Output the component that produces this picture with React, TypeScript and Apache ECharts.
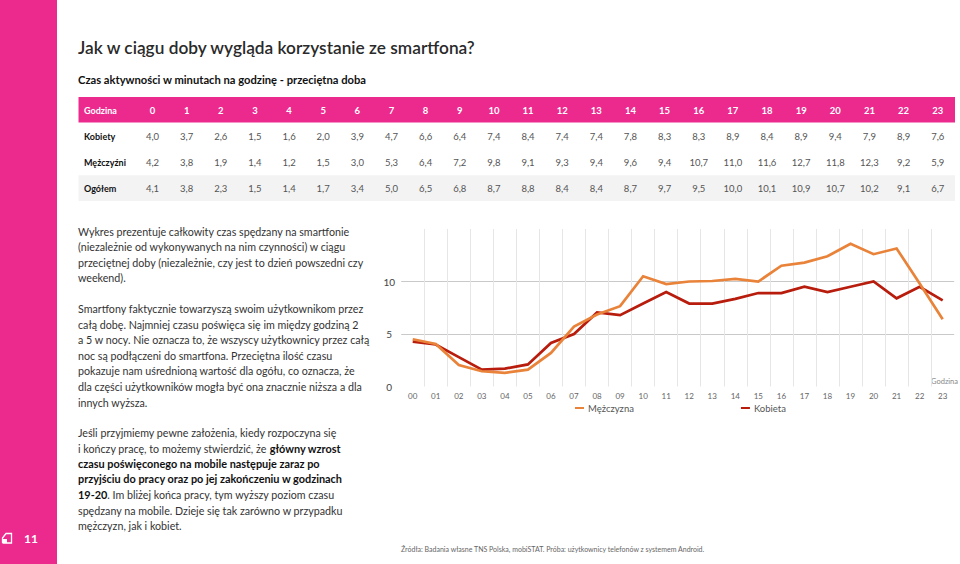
import React, { useEffect, useRef } from "react";
import * as echarts from "echarts";

const title = "Jak w ciągu doby wygląda korzystanie ze smartfona?";
const subtitle = "Czas aktywności w minutach na godzinę - przeciętna doba";
const tableHours = ["0","1","2","3","4","5","6","7","8","9","10","11","12","13","14","15","16","17","18","19","20","21","22","23"];
const tableWomen = ["4,0","3,7","2,6","1,5","1,6","2,0","3,9","4,7","6,6","6,4","7,4","8,4","7,4","7,4","7,8","8,3","8,3","8,9","8,4","8,9","9,4","7,9","8,9","7,6"];
const tableMen = ["4,2","3,8","1,9","1,4","1,2","1,5","3,0","5,3","6,4","7,2","9,8","9,1","9,3","9,4","9,6","9,4","10,7","11,0","11,6","12,7","11,8","12,3","9,2","5,9"];
const tableAll = ["4,1","3,8","2,3","1,5","1,4","1,7","3,4","5,0","6,5","6,8","8,7","8,8","8,4","8,4","8,7","9,7","9,5","10,0","10,1","10,9","10,7","10,2","9,1","6,7"];

const axisHours = ["00","01","02","03","04","05","06","07","08","09","10","11","12","13","14","15","16","17","18","19","20","21","22","23"];
const menPlotted = [4.5,4.05,2.05,1.45,1.3,1.6,3.2,5.7,6.85,7.65,10.5,9.75,10,10.05,10.25,10,11.5,11.8,12.4,13.6,12.6,13.15,9.8,6.4];
const womenPlotted = [4.27,4.0,2.8,1.6,1.7,2.1,4.15,5.0,7.05,6.8,7.9,9,7.9,7.9,8.35,8.9,8.9,9.5,9.0,9.5,10,8.4,9.5,8.2];

const paraA = [
  "Wykres prezentuje całkowity czas spędzany na smartfonie",
  "(niezależnie od wykonywanych na nim czynności) w ciągu",
  "przeciętnej doby (niezależnie, czy jest to dzień powszedni czy",
  "weekend).",
];
const paraB = [
  "Smartfony faktycznie towarzyszą swoim użytkownikom przez",
  "całą dobę. Najmniej czasu poświęca się im między godziną 2",
  "a 5 w nocy. Nie oznacza to, że wszyscy użytkownicy przez całą",
  "noc są podłączeni do smartfona. Przeciętna ilość czasu",
  "pokazuje nam uśrednioną wartość dla ogółu, co oznacza, że",
  "dla części użytkowników mogła być ona znacznie niższa a dla",
  "innych wyższa.",
];
const paraC = [
  "Jeśli przyjmiemy pewne założenia, kiedy rozpoczyna się",
  "i kończy pracę, to możemy stwierdzić, że {b|główny wzrost}",
  "{b|czasu poświęconego na mobile następuje zaraz po}",
  "{b|przyjściu do pracy oraz po jej zakończeniu w godzinach}",
  "{b|19-20}. Im bliżej końca pracy, tym wyższy poziom czasu",
  "spędzany na mobile. Dzieje się tak zarówno w przypadku",
  "mężczyzn, jak i kobiet.",
];
const source = "Źródła: Badania własne TNS Polska, mobiSTAT. Próba: użytkownicy telefonów z systemem Android.";
const pageNumber = "11";

const FONT = "Lato";
const PINK = "#ec2a8e";
const BODY_SIZE = 10.7;

const text = (x: number, y: number, t: string, style: any = {}) => ({
  type: "text",
  x,
  y,
  silent: true,
  style: {
    text: t,
    fontFamily: FONT,
    fontSize: BODY_SIZE,
    fill: "#333",
    textVerticalAlign: "middle",
    verticalAlign: "middle",
    align: "left",
    ...style,
  },
});

function tableRow(y: number, label: string, vals: string[], head = false) {
  const base = head
    ? { fill: "#fff", fontWeight: 700, fontSize: 9.5 }
    : { fill: "#555", fontSize: 9.5 };
  return [
    text(84, y, label, { fontWeight: 700, fontSize: 9, fill: head ? "#fff" : "#111" }),
    ...vals.map((v, i) => text(152.5 + i * 34.14, y, v, { ...base, align: "center" })),
  ];
}

function para(lines: string[], ys: number[]) {
  return lines.map((l, i) =>
    text(78, ys[i], l, {
      rich: { b: { fontFamily: FONT, fontSize: 10.9, fontWeight: 700, fill: "#111" } },
    })
  );
}

export default function App() {
  const ref = useRef<HTMLDivElement>(null);
  useEffect(() => {
    const chart = echarts.init(ref.current!, null, { renderer: "svg", width: 960, height: 564 });
    chart.setOption({
      animation: false,
      backgroundColor: "#fff",
      grid: { left: 401.2, top: 229, width: 553, height: 157.5, containLabel: false },
      legend: {
        left: 570,
        top: 398,
        itemWidth: 9,
        itemHeight: 2,
        itemGap: 107,
        icon: "rect",
        textStyle: { fontFamily: FONT, fontSize: 9.5, color: "#555", padding: [0, 0, 0, -1] },
        data: ["Mężczyzna", "Kobieta"],
      },
      xAxis: {
        type: "category",
        data: axisHours,
        boundaryGap: true,
        axisLine: { show: false },
        axisTick: { show: false },
        axisLabel: { fontFamily: FONT, fontSize: 8, color: "#666", margin: 5, interval: 0 },
        splitLine: {
          show: true,
          interval: 0,
          showMinLine: false,
          showMaxLine: false,
          lineStyle: { color: "#e6e6e6", width: 1 },
        },
      },
      yAxis: {
        type: "value",
        min: 0,
        max: 15,
        interval: 5,
        axisLine: { show: false },
        axisTick: { show: false },
        axisLabel: {
          fontFamily: FONT,
          fontSize: 10,
          color: "#444",
          margin: 12,
          align: "center",
          formatter: (v: number) => (v === 15 ? "" : String(v)),
        },
        splitLine: {
          show: true,
          showMinLine: false,
          showMaxLine: false,
          lineStyle: { color: "#c9c9c9", width: 1 },
        },
      },
      series: [
        {
          name: "Mężczyzna",
          type: "line",
          data: menPlotted,
          symbol: "none",
          z: 3,
          lineStyle: { color: "#e9833a", width: 2.7, join: "miter" },
          itemStyle: { color: "#e9833a" },
        },
        {
          name: "Kobieta",
          type: "line",
          data: womenPlotted,
          symbol: "none",
          z: 2,
          lineStyle: { color: "#b81c0c", width: 2.7, join: "miter" },
          itemStyle: { color: "#b81c0c" },
        },
      ],
      graphic: {
        elements: [
          { type: "rect", shape: { x: 0, y: 0, width: 57, height: 564 }, style: { fill: PINK }, silent: true },
          { type: "rect", shape: { x: 78.5, y: 97, width: 876.5, height: 25.5 }, style: { fill: PINK }, silent: true },
          { type: "rect", shape: { x: 78.5, y: 175.3, width: 876.5, height: 25.7 }, style: { fill: "#f3f3f3" }, silent: true },
          text(78, 47, title, { fontSize: 17.3, fontWeight: 600, fill: "#2a2a2a" }),
          text(78, 79.5, subtitle, { fontSize: 11.2, fontWeight: 700, fill: "#111" }),
          ...tableRow(110, "Godzina", tableHours, true),
          ...tableRow(136.5, "Kobiety", tableWomen),
          ...tableRow(162, "Mężczyźni", tableMen),
          ...tableRow(188, "Ogółem", tableAll),
          ...para(paraA, [231, 246.4, 262, 277.4]),
          ...para(paraB, [308.7, 324.3, 339.8, 355.3, 370.8, 386.3, 402]),
          ...para(paraC, [432.7, 448, 463.4, 478.8, 494.3, 510, 525.4]),
          text(401, 548.5, source, { fontSize: 7, fill: "#666" }),
          text(958, 381.7, "Godzina", { fontSize: 7.5, fill: "#888", align: "right" }),
          text(24, 538.5, pageNumber, { fontSize: 12, fontWeight: 700, fill: "#fff" }),
          {
            type: "polyline",
            silent: true,
            shape: { points: [[2.5, 543], [11.5, 543], [11.5, 533.5], [6, 533.5], [2.5, 538], [2.5, 543]] },
            style: { stroke: "#fff", lineWidth: 1.3, fill: "none" },
          },
          {
            type: "polygon",
            silent: true,
            shape: { points: [[2.5, 543], [2.5, 539], [7, 539], [7, 543]] },
            style: { fill: "#fff" },
          },
        ],
      },
    });
    return () => chart.dispose();
  }, []);
  return <div ref={ref} style={{ position: "absolute", left: 0, top: 0, width: 960, height: 564 }} />;
}
